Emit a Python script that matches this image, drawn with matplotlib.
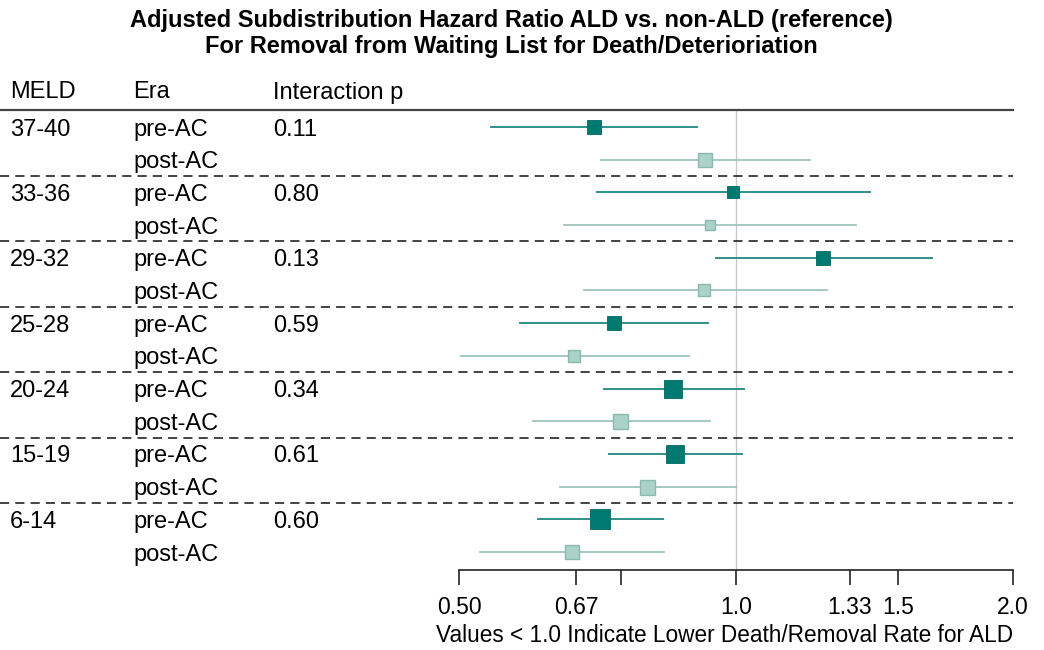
import matplotlib
matplotlib.use('Agg')
import matplotlib.pyplot as plt
import matplotlib.transforms as mtransforms

plt.rcParams['font.family'] = ['Liberation Sans', 'DejaVu Sans']

# data
meld = ['37-40', '33-36', '29-32', '25-28', '20-24', '15-19', '6-14']
p_int = ['0.11', '0.80', '0.13', '0.59', '0.34', '0.61', '0.60']
eras = ['pre-AC', 'post-AC']

pre_hr = [0.701, 0.993, 1.244, 0.736, 0.855, 0.859, 0.712]
pre_lo = [0.542, 0.707, 0.950, 0.582, 0.718, 0.728, 0.610]
pre_hi = [0.906, 1.400, 1.635, 0.933, 1.019, 1.014, 0.834]

post_hr = [0.926, 0.936, 0.924, 0.667, 0.748, 0.801, 0.664]
post_lo = [0.714, 0.651, 0.683, 0.502, 0.601, 0.643, 0.527]
post_hi = [1.202, 1.351, 1.257, 0.890, 0.938, 1.000, 0.836]

# box weights (pixel side of squares)
pre_box = [14, 11.6, 13.6, 14.5, 17.6, 18.8, 19.5]
post_box = [13.5, 10, 12.4, 12.6, 15, 15, 13.8]

ticks = [0.5, 0.67, 0.75, 1.0, 1.33, 1.5, 2.0]
tick_labels = ['0.50', '0.67', '', '1.0', '1.33', '1.5', '2.0']

W, H = 1044, 650
fig = plt.figure(figsize=(W / 100, H / 100), dpi=100)
ax = fig.add_axes([459 / W, 1 - 570 / H, (1013 - 459) / W, 460 / H])

pre_col, pre_line = '#007a70', '#2f928a'
post_face, post_edge, post_line = '#abd2c8', '#8cb9ae', '#9ec5bc'
fs = 17

n = len(meld)
ax.axvline(1.0, color='#c8c8c8', lw=1, zorder=1)
for i in range(n):
    y1, y2 = 2 * i, 2 * i + 1
    ax.plot([pre_lo[i], pre_hi[i]], [y1, y1], color=pre_line, lw=1.4, zorder=2)
    ax.plot(pre_hr[i], y1, 's', ms=pre_box[i] * 0.72, mfc=pre_col,
            mec='#00695f', mew=0.6, zorder=3)
    ax.plot([post_lo[i], post_hi[i]], [y2, y2], color=post_line, lw=1.3, zorder=2)
    ax.plot(post_hr[i], y2, 's', ms=post_box[i] * 0.72, mfc=post_face,
            mec=post_edge, mew=1.0, zorder=3)

ax.set_xscale('log')
ax.set_xlim(0.5, 2.0)
ax.set_ylim(2 * n - 1 + 0.55, -0.52)
ax.set_xticks(ticks)
ax.set_xticklabels(tick_labels, fontsize=16.5)
ax.minorticks_off()
ax.tick_params(axis='x', length=11, width=1.2, pad=8, color='#222222')
ax.set_yticks([])
for s in ['top', 'right', 'left']:
    ax.spines[s].set_visible(False)
ax.spines['bottom'].set_linewidth(1.2)
ax.spines['bottom'].set_color('#222222')

# left table text, figure x / data y
trans = mtransforms.blended_transform_factory(fig.transFigure, ax.transData)
fx = lambda px: px / W
for i in range(n):
    ax.text(fx(10), 2 * i, meld[i], transform=trans, fontsize=fs, va='center_baseline')
    ax.text(fx(273), 2 * i, p_int[i], transform=trans, fontsize=fs, va='center_baseline')
    for k, era in enumerate(eras):
        ax.text(fx(133), 2 * i + k, era, transform=trans, fontsize=fs,
                va='center_baseline')

# header
hy = 1 - 90 / H
fig.text(fx(10), hy, 'MELD', fontsize=fs, va='center_baseline')
fig.text(fx(133), hy, 'Era', fontsize=fs, va='center_baseline')
fig.text(fx(273), hy, 'Interaction p', fontsize=fs, va='center_baseline')

# rules
ax.plot([0, fx(1013)], [-0.52, -0.52], transform=trans, color='#444444',
        lw=1.6, clip_on=False)
for i in range(1, n):
    ax.plot([0, fx(1013)], [2 * i - 0.5, 2 * i - 0.5], transform=trans,
            color='#111111', lw=1.1, ls=(0, (6, 4)), clip_on=False)

fig.text(511 / W, 1 - 20 / H, 'Adjusted Subdistribution Hazard Ratio ALD vs. non-ALD (reference)',
         fontsize=17, fontweight='bold', ha='center', va='center')
fig.text(511 / W, 1 - 47 / H, 'For Removal from Waiting List for Death/Deterioriation',
         fontsize=17, fontweight='bold', ha='center', va='center')
fig.text(1013 / W, 1 - 636 / H, 'Values < 1.0 Indicate Lower Death/Removal Rate for ALD',
         fontsize=16.3, ha='right', va='center')

fig.savefig('out.png', dpi=100)
